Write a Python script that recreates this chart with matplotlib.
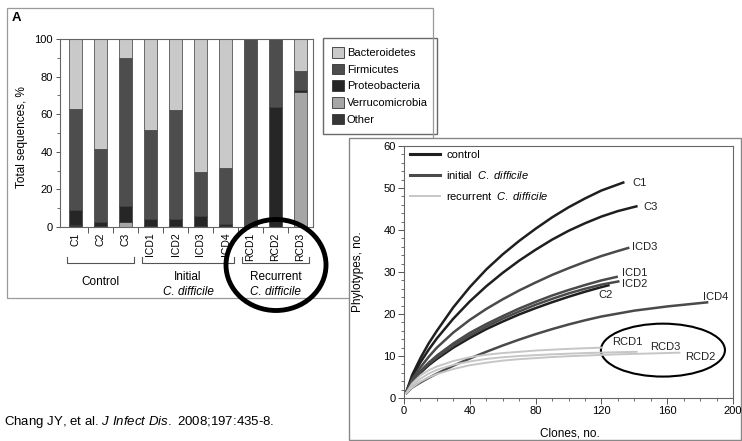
import matplotlib
matplotlib.use('Agg')
import matplotlib.pyplot as plt
from matplotlib.patches import Rectangle, Ellipse, Patch
from matplotlib.lines import Line2D
import matplotlib.transforms as mtransforms
from matplotlib.ticker import MultipleLocator, FixedLocator
import numpy as np

plt.rcParams['font.family'] = ['Liberation Sans', 'DejaVu Sans']
plt.rcParams['mathtext.fontset'] = 'custom'
plt.rcParams['mathtext.rm'] = 'Liberation Sans'
plt.rcParams['mathtext.it'] = 'Liberation Sans:italic'

# ---------------- data: panel A (stacked bars, % of sequences) ----------------
samples = ['C1', 'C2', 'C3', 'ICD1', 'ICD2', 'ICD3', 'ICD4', 'RCD1', 'RCD2', 'RCD3']
other = [1, 0.5, 0, 0.5, 0.5, 0.5, 0.5, 0, 0, 0]
verrucomicrobia = [0, 0, 2.5, 0, 0, 0, 0, 0, 0, 72]
proteobacteria = [8, 2, 8.5, 3.5, 3.5, 5.5, 1, 0, 64, 1]
firmicutes = [54, 39, 79, 47.5, 58, 23, 30, 100, 36, 10]
bacteroidetes = [37, 58.5, 10, 48.5, 38, 71, 68.5, 0, 0, 17]
phyla = ['Bacteroidetes', 'Firmicutes', 'Proteobacteria', 'Verrucomicrobia', 'Other']
group_names = ['Control', 'Initial', 'Recurrent']
group_sub = ['', 'C. difficile', 'C. difficile']
group_first = [0, 3, 7]
group_last = [2, 6, 9]

# ---------------- data: rarefaction curves ----------------
C1_x = [1, 5, 10, 15, 20, 30, 40, 50, 60, 70, 80, 90, 100, 110, 120, 134]
C1_y = [1, 5.5, 9.5, 13, 16, 21.6, 26.4, 30.6, 34.2, 37.4, 40.3, 43.0, 45.4, 47.5, 49.4, 51.4]
C3_x = [1, 5, 10, 15, 20, 30, 40, 50, 60, 70, 80, 90, 100, 110, 120, 130, 142]
C3_y = [1, 5, 8.5, 11.5, 14.2, 18.9, 23.0, 26.6, 29.8, 32.7, 35.3, 37.7, 39.8, 41.6, 43.2, 44.5, 45.7]
C2_x = [1, 5, 10, 15, 20, 30, 40, 50, 60, 70, 80, 90, 100, 110, 120, 125]
C2_y = [1, 3.8, 6.0, 7.8, 9.3, 12.0, 14.3, 16.4, 18.2, 19.9, 21.4, 22.8, 24.1, 25.3, 26.4, 26.9]
ICD3_x = [1, 5, 10, 15, 20, 30, 40, 50, 60, 70, 80, 90, 100, 110, 120, 130, 137]
ICD3_y = [1, 4.5, 7.3, 9.8, 12, 15.6, 18.6, 21.2, 23.5, 25.6, 27.5, 29.3, 30.9, 32.4, 33.8, 35.0, 35.8]
ICD1_x = [1, 5, 10, 15, 20, 30, 40, 50, 60, 70, 80, 90, 100, 110, 120, 130]
ICD1_y = [1, 4, 6.4, 8.4, 10.1, 13.0, 15.5, 17.6, 19.5, 21.3, 22.9, 24.4, 25.7, 26.9, 28.0, 28.9]
ICD2_x = [1, 5, 10, 15, 20, 30, 40, 50, 60, 70, 80, 90, 100, 110, 120, 131]
ICD2_y = [1, 3.9, 6.2, 8.1, 9.7, 12.5, 14.9, 17.0, 18.9, 20.6, 22.2, 23.6, 24.9, 26.0, 27.0, 27.8]
ICD4_x = [1, 5, 10, 15, 20, 30, 40, 50, 60, 70, 80, 90, 100, 110, 120, 130, 140, 150, 160, 170, 185]
ICD4_y = [1, 2.5, 3.7, 4.8, 5.8, 7.7, 9.4, 11.0, 12.5, 13.9, 15.2, 16.4, 17.5, 18.5, 19.4,
          20.1, 20.8, 21.3, 21.8, 22.2, 22.8]
RCD1_x = [1, 5, 10, 15, 20, 30, 40, 50, 60, 70, 80, 90, 100, 110, 121]
RCD1_y = [1, 3.5, 5.4, 6.6, 7.5, 8.8, 9.7, 10.3, 10.7, 11.0, 11.3, 11.5, 11.7, 11.85, 12]
RCD3_x = [1, 5, 10, 15, 20, 30, 40, 50, 60, 70, 80, 90, 100, 110, 120, 130, 142]
RCD3_y = [1, 3, 4.6, 5.8, 6.7, 7.9, 8.7, 9.3, 9.7, 10.0, 10.2, 10.4, 10.55, 10.7, 10.8, 10.9, 11]
RCD2_x = [1, 5, 10, 15, 20, 30, 40, 50, 60, 70, 80, 90, 100, 110, 120, 130, 140, 150, 168]
RCD2_y = [1, 2.5, 3.9, 4.9, 5.7, 6.9, 7.8, 8.4, 8.9, 9.25, 9.5, 9.75, 9.95, 10.1, 10.25,
          10.4, 10.5, 10.6, 10.8]
legend_labels = ['control', r'initial  $\mathit{C.\ difficile}$', r'recurrent  $\mathit{C.\ difficile}$']

W, H = 742, 441
fig = plt.figure(figsize=(W / 100, H / 100), dpi=100)
fig.patch.set_facecolor('white')

def fx(px):
    return px / W

def fy(py):
    return 1 - py / H

# panel A frame
fig.add_artist(Rectangle((fx(7), fy(298)), fx(433) - fx(7), fy(8) - fy(298),
                         transform=fig.transFigure, fill=False, edgecolor='#9a9a9a', lw=0.9, zorder=1))
fig.text(fx(12), fy(18), 'A', fontsize=9.5, fontweight='bold', va='center', ha='left')

# ---------------- panel A bars ----------------
ax1 = fig.add_axes([fx(60), fy(227), fx(313) - fx(60), fy(39) - fy(227)])
xs = np.arange(len(samples))
cols = {'Bacteroidetes': '#c9c9c9', 'Firmicutes': '#4d4d4d', 'Proteobacteria': '#262626',
        'Verrucomicrobia': '#a6a6a6', 'Other': '#363636'}
stack = [('Other', other), ('Verrucomicrobia', verrucomicrobia), ('Proteobacteria', proteobacteria),
         ('Firmicutes', firmicutes), ('Bacteroidetes', bacteroidetes)]
bottom = np.zeros(len(samples))
for name, vals in stack:
    v = np.array(vals, dtype=float)
    ax1.bar(xs, v, bottom=bottom, width=0.52, color=cols[name], edgecolor='#3a3a3a', linewidth=0.5)
    bottom += v
ax1.set_xlim(-0.62, 9.5)
ax1.set_ylim(0, 100)
ax1.yaxis.set_major_locator(MultipleLocator(20))
ax1.yaxis.set_minor_locator(MultipleLocator(10))
ax1.set_xticks(xs)
ax1.set_xticklabels(samples, rotation=90, fontsize=7.5)
ax1.tick_params(axis='x', which='major', length=0, pad=4)
ax1.xaxis.set_minor_locator(FixedLocator(xs[:-1] + 0.5))
ax1.tick_params(axis='x', which='minor', length=4, width=0.7, color='#555')
ax1.tick_params(axis='y', which='major', labelsize=8, length=3, width=0.7, color='#555', pad=2)
ax1.tick_params(axis='y', which='minor', length=2, width=0.6, color='#555')
for s in ax1.spines.values():
    s.set_color('#666')
    s.set_linewidth(0.8)
fig.text(fx(22), fy(137), 'Total sequences, %', rotation=90, fontsize=8.5, ha='center', va='center')

# group brackets
tr = mtransforms.blended_transform_factory(ax1.transData, ax1.transAxes)
for name, sub, a, b in zip(group_names, group_sub, group_first, group_last):
    xl, xr = a - 0.35, b + 0.35
    ax1.plot([xl, xl, xr, xr], [-0.16, -0.19, -0.19, -0.16], color='#555', lw=0.8,
             transform=tr, clip_on=False)
    xm = (a + b) / 2
    if sub:
        ax1.text(xm, -0.265, name, transform=tr, ha='center', va='center', fontsize=8.5)
        ax1.text(xm, -0.345, sub, transform=tr, ha='center', va='center', fontsize=8.5, style='italic')
    else:
        ax1.text(xm, -0.29, name, transform=tr, ha='center', va='center', fontsize=8.5)

handles = [Patch(facecolor=cols[p], edgecolor='#333', lw=0.6) for p in phyla]
leg1 = ax1.legend(handles, phyla, loc='upper left', bbox_to_anchor=(fx(323), fy(38)),
                  bbox_transform=fig.transFigure, fontsize=8, frameon=True, fancybox=False,
                  handlelength=1.1, handleheight=1.1, handletextpad=0.25, labelspacing=0.5,
                  borderpad=0.8, borderaxespad=0)
leg1.get_frame().set_edgecolor('#444')
leg1.get_frame().set_linewidth(1.0)

# big ellipse on panel A
fig.add_artist(Ellipse((fx(276), fy(265)), 100 / W, 91 / H, transform=fig.transFigure,
                       fill=False, edgecolor='black', lw=3.5, zorder=5))

# ---------------- panel B ----------------
fig.add_artist(Rectangle((fx(349), fy(440)), fx(741) - fx(349), fy(138) - fy(440),
                         transform=fig.transFigure, facecolor='white', edgecolor='#888', lw=1.0, zorder=2))
ax2 = fig.add_axes([fx(404), fy(398), fx(733) - fx(404), fy(146) - fy(398)])
ax2.set_zorder(3)
c_col, i_col, r_col = '#1f1f1f', '#4a4a4a', '#c6c6c6'
curves = [
    (C1_x, C1_y, c_col, 1.8), (C3_x, C3_y, c_col, 1.8), (C2_x, C2_y, c_col, 1.8),
    (ICD3_x, ICD3_y, i_col, 1.8), (ICD1_x, ICD1_y, i_col, 1.8), (ICD2_x, ICD2_y, i_col, 1.8),
    (ICD4_x, ICD4_y, i_col, 1.8),
    (RCD1_x, RCD1_y, r_col, 1.4), (RCD3_x, RCD3_y, r_col, 1.4), (RCD2_x, RCD2_y, r_col, 1.4),
]
for x, y, c, lw in curves:
    ax2.plot(x, y, color=c, lw=lw, solid_capstyle='butt', solid_joinstyle='round')
ax2.set_xlim(0, 200)
ax2.set_ylim(0, 60)
ax2.xaxis.set_major_locator(MultipleLocator(40))
ax2.xaxis.set_minor_locator(MultipleLocator(10))
ax2.yaxis.set_major_locator(MultipleLocator(10))
ax2.yaxis.set_minor_locator(MultipleLocator(2))
ax2.tick_params(which='major', labelsize=8, length=4, width=0.7, color='#555', pad=2)
ax2.tick_params(which='minor', length=2, width=0.6, color='#555')
for s in ax2.spines.values():
    s.set_color('#666')
    s.set_linewidth(0.8)

lbl_kw = dict(fontsize=8, color='#222', va='center')
ax2.text(138.6, 51.2, 'C1', ha='left', **lbl_kw)
ax2.text(145.3, 45.5, 'C3', ha='left', **lbl_kw)
ax2.text(138.6, 36.0, 'ICD3', ha='left', **lbl_kw)
ax2.text(132.5, 29.8, 'ICD1', ha='left', **lbl_kw)
ax2.text(132.5, 27.1, 'ICD2', ha='left', **lbl_kw)
ax2.text(122.8, 24.5, 'C2', ha='center', **lbl_kw)
ax2.text(189.7, 24.0, 'ICD4', ha='center', **lbl_kw)
ax2.text(136.0, 13.3, 'RCD1', ha='center', **lbl_kw)
ax2.text(158.7, 12.1, 'RCD3', ha='center', **lbl_kw)
ax2.text(180.0, 9.8, 'RCD2', ha='center', **lbl_kw)

ax2.add_patch(Ellipse((157.4, 11.4), 75.4, 12.6, fill=False, edgecolor='black', lw=1.5, clip_on=False))

lh = [Line2D([], [], color=c_col, lw=2.2), Line2D([], [], color=i_col, lw=2.2), Line2D([], [], color=r_col, lw=1.4)]
ax2.legend(lh, legend_labels, loc='upper left', bbox_to_anchor=(fx(408), fy(148)),
           bbox_transform=fig.transFigure, frameon=False, fontsize=8, handlelength=2.7,
           handletextpad=0.55, labelspacing=0.8, borderpad=0.2, borderaxespad=0)

fig.text(fx(358), fy(272), 'Phylotypes, no.', rotation=90, fontsize=8.5, ha='center', va='center', zorder=4)
fig.text(fx(570), fy(433), 'Clones, no.', fontsize=8.5, ha='center', va='center', zorder=4)

# citation
fig.text(fx(4), fy(422), r'Chang JY, et al. $\mathit{J\ Infect\ Dis.}$ 2008;197:435-8.',
         fontsize=9.5, ha='left', va='center')

fig.savefig('out.png', dpi=100)
